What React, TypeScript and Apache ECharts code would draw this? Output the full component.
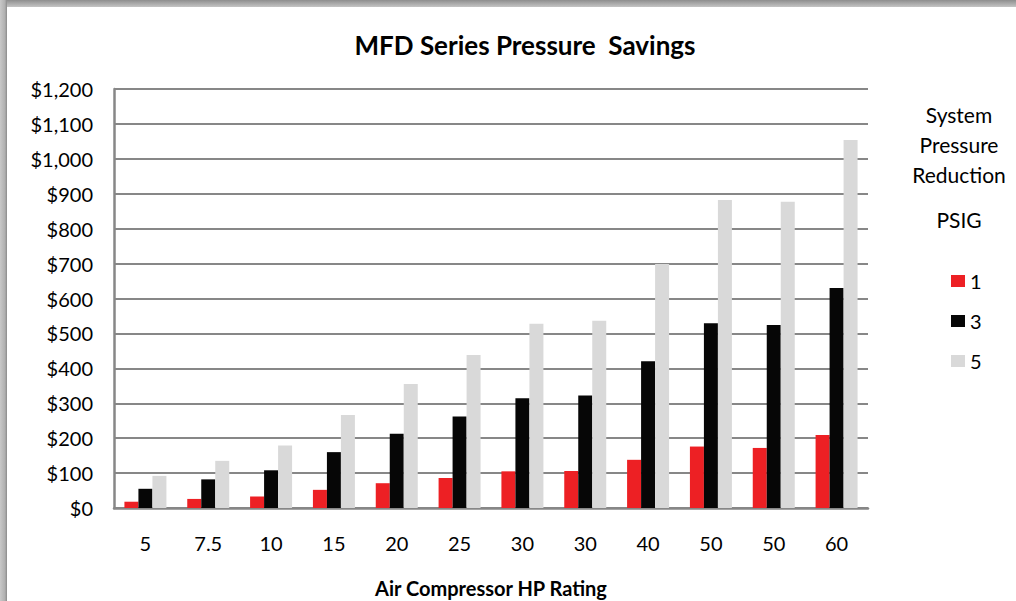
import React, { useEffect, useRef } from "react";
import * as echarts from "echarts";

const categories = ["5", "7.5", "10", "15", "20", "25", "30", "30", "40", "50", "50", "60"];
const psig1 = [18, 26, 33, 52, 71, 86, 105, 106, 138, 176, 172, 209];
const psig3 = [55, 82, 108, 160, 213, 262, 314, 322, 420, 529, 524, 630];
const psig5 = [92, 135, 179, 266, 355, 438, 528, 536, 699, 882, 877, 1054];
const seriesNames = ["1", "3", "5"];
const legendTitleLines = ["System", "Pressure", "Reduction"];

const FONT = "Lato, 'Open Sans', sans-serif";

export default function App() {
  const ref = useRef<HTMLDivElement>(null);
  useEffect(() => {
    if (!ref.current) return;
    const chart = echarts.init(ref.current, null, { renderer: "svg" });
    const gridColor = "#878787";
    const mk = (name: string, data: number[], color: string) => ({
      name,
      type: "bar",
      data,
      barWidth: 14,
      barGap: "0%",
      itemStyle: { color },
    });
    const legendText = (t: string, y: number) => ({
      type: "text",
      x: 959,
      y,
      style: {
        text: t,
        textAlign: "center",
        textVerticalAlign: "middle",
        fontFamily: FONT,
        fontSize: 21,
        fill: "#000",
      },
      silent: true,
    });
    chart.setOption({
      animation: false,
      backgroundColor: "#ffffff",
      textStyle: { fontFamily: FONT },
      title: {
        text: "MFD Series Pressure  Savings",
        left: 520,
        top: 27,
        textAlign: "center",
        textStyle: { fontFamily: FONT, fontSize: 26, fontWeight: "bold", color: "#000" },
      },
      grid: {
        left: 114,
        right: 148,
        top: 89,
        bottom: 93,
        containLabel: false,
        outerBoundsMode: "none",
      },
      xAxis: {
        type: "category",
        data: categories,
        name: "Air Compressor HP Rating",
        nameLocation: "middle",
        nameGap: 70,
        nameTextStyle: { fontFamily: FONT, fontSize: 20, fontWeight: "bold", color: "#000" },
        axisLine: { show: true, lineStyle: { color: gridColor, width: 2.5 } },
        axisTick: { show: false },
        axisLabel: { fontFamily: FONT, fontSize: 20, color: "#000", margin: 25 },
      },
      yAxis: {
        type: "value",
        min: 0,
        max: 1200,
        interval: 100,
        axisLine: { show: true, lineStyle: { color: gridColor, width: 2.5 } },
        axisTick: { show: false },
        splitLine: { show: true, lineStyle: { color: gridColor, width: 2 } },
        axisLabel: {
          fontFamily: FONT,
          fontSize: 20,
          color: "#000",
          margin: 21,
          formatter: (v: number) => "$" + v.toLocaleString("en-US"),
        },
      },
      legend: {
        data: seriesNames,
        orient: "vertical",
        left: 946,
        top: 266,
        itemWidth: 14,
        itemHeight: 12,
        itemGap: 20,
        icon: "rect",
        textStyle: { fontFamily: FONT, fontSize: 20, color: "#000" },
      },
      graphic: [
        {
          type: "rect",
          shape: { x: 0, y: 0, width: 1016, height: 7 },
          style: {
            fill: new echarts.graphic.LinearGradient(0, 0, 0, 1, [
              { offset: 0, color: "#8e8e8e" },
              { offset: 1, color: "#c4c4c4" },
            ]),
          },
          silent: true,
        },
        {
          type: "rect",
          shape: { x: 0, y: 0, width: 7, height: 601 },
          style: {
            fill: new echarts.graphic.LinearGradient(0, 0, 1, 0, [
              { offset: 0, color: "#c8c8c8" },
              { offset: 0.7, color: "#b0b0b0" },
              { offset: 1, color: "#8a8a8a" },
            ]),
          },
          silent: true,
        },
        ...legendTitleLines.map((t, i) => legendText(t, 114 + i * 30)),
        legendText("PSIG", 219),
      ],
      series: [
        mk(seriesNames[0], psig1, "#ED2024"),
        mk(seriesNames[1], psig3, "#060606"),
        mk(seriesNames[2], psig5, "#D9D9D9"),
      ],
    });
    return () => chart.dispose();
  }, []);
  return (
    <div
      ref={ref}
      style={{ position: "fixed", left: 0, top: 0, width: 1016, height: 601, background: "#fff" }}
    />
  );
}
